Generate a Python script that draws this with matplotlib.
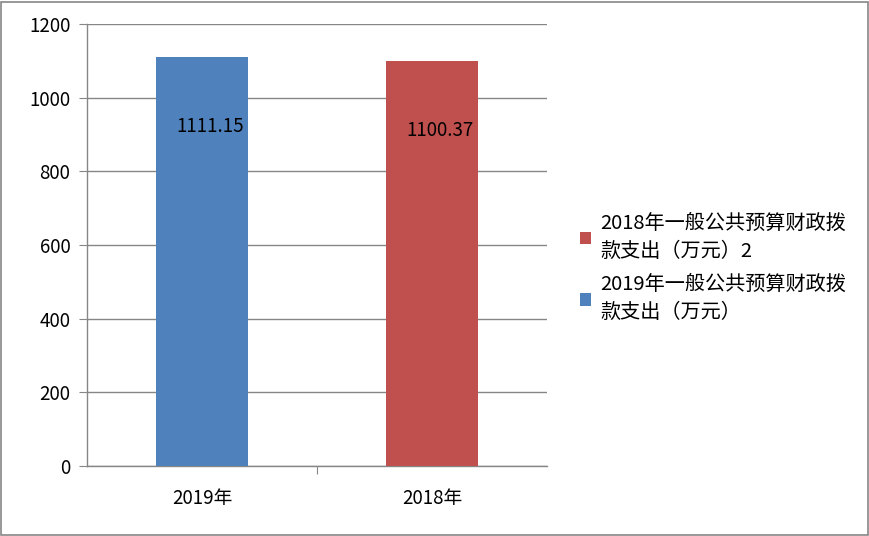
import matplotlib
matplotlib.use("Agg")
import matplotlib.pyplot as plt
from matplotlib.patches import Rectangle

plt.rcParams['font.family'] = ['Noto Sans CJK SC', 'DejaVu Sans']

categories = ['2019年', '2018年']
values = [1111.15, 1100.37]
series_labels = ['2019年一般公共预算财政拨\n款支出（万元）', '2018年一般公共预算财政拨\n款支出（万元）2']
colors = ['#4F81BD', '#C0504D']
yticks = [0, 200, 400, 600, 800, 1000, 1200]

fig = plt.figure(figsize=(8.7, 5.36), dpi=100)
ax = fig.add_axes([87 / 870, 70 / 536, 460 / 870, 442 / 536])

grey = '#868686'
fs = 13.5
bars = []
for i, (cat, val, lab, col) in enumerate(zip(categories, values, series_labels, colors)):
    b = ax.bar(i, val, width=0.4, color=col, label=lab, zorder=3)
    bars.append(b)
    ax.text(i + 0.035, val - 190, f'{val:.2f}', ha='center', va='center',
            fontsize=fs, color='black', zorder=4)

ax.set_xlim(-0.5, 1.5)
ax.set_ylim(0, 1200)
ax.set_yticks(yticks)
ax.set_yticklabels([str(t) for t in yticks], fontsize=fs)
ax.set_xticks([0.5])
ax.set_xticklabels([''])
for i, cat in enumerate(categories):
    ax.text(i, -88, cat, ha='center', va='center', fontsize=fs)
ax.tick_params(axis='y', length=6, color=grey, pad=6)
ax.tick_params(axis='x', length=6, color=grey)
ax.yaxis.grid(True, color=grey, linewidth=1, zorder=0)
for s in ['top', 'right']:
    ax.spines[s].set_visible(False)
for s in ['left', 'bottom']:
    ax.spines[s].set_color(grey)
    ax.spines[s].set_linewidth(1)

handles = [bars[1], bars[0]]
labels = [series_labels[1], series_labels[0]]
leg = ax.legend(handles, labels, loc='center left', bbox_to_anchor=(562 / 870, 268 / 536),
                bbox_transform=fig.transFigure, frameon=False, fontsize=14.5,
                handlelength=0.55, handleheight=0.55, handletextpad=0.45, labelspacing=0.6)
for t in leg.get_texts():
    t.set_linespacing(1.45)

fig.patches.append(Rectangle((1 / 870, 1 / 536), 867 / 870, 533 / 536, transform=fig.transFigure,
                             fill=False, edgecolor=grey, linewidth=1.2))

fig.savefig('out.png', dpi=100)
